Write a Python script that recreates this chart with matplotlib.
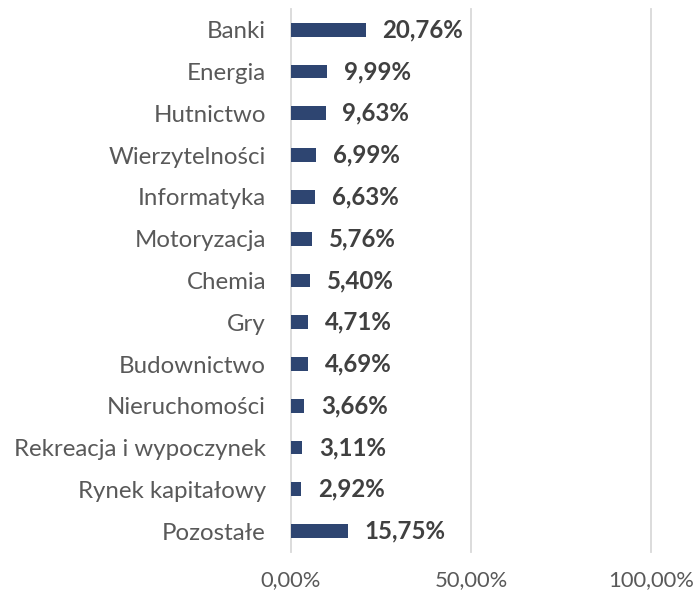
import matplotlib.pyplot as plt

# == DATA ==
categories = ["Banki", "Energia", "Hutnictwo", "Wierzytelności", "Informatyka",
              "Motoryzacja", "Chemia", "Gry", "Budownictwo", "Nieruchomości",
              "Rekreacja i wypoczynek", "Rynek kapitałowy", "Pozostałe"]
shares = [20.76, 9.99, 9.63, 6.99, 6.63, 5.76, 5.40, 4.71, 4.69, 3.66, 3.11, 2.92, 15.75]
xticks = [0, 50, 100]

plt.rcParams['font.family'] = ['Lato', 'DejaVu Sans']
fs = 17.3

fig = plt.figure(figsize=(6.96, 5.94), dpi=100)
ax = fig.add_axes([0.418, 0.0707, 0.517, 0.9143])

pos = list(range(len(categories)))
ax.barh(pos, shares, height=0.33, color="#2E4571", zorder=3)
for y, v in zip(pos, shares):
    ax.text(v + 4.7, y, f"{v:.2f}%".replace(".", ","), va="center", ha="left",
            fontsize=fs, fontweight="bold", color="#404040")

ax.set_xlim(0, 100)
ax.set_ylim(len(categories) - 0.5, -0.5)
ax.set_yticks(pos)
ax.set_yticklabels(categories, fontsize=fs, color="#595959")
ax.set_xticks(xticks)
ax.set_xticklabels([f"{t:.2f}%".replace(".", ",") for t in xticks], fontsize=15.8, color="#595959")
ax.tick_params(axis="both", length=0)
ax.tick_params(axis="y", pad=18)
ax.tick_params(axis="x", pad=13)
ax.grid(axis="x", color="#D9D9D9", linewidth=1.3, zorder=0)
for gl in ax.get_xgridlines():
    gl.set_clip_on(False)
for s in ax.spines.values():
    s.set_visible(False)

fig.savefig("out.png", dpi=100)
